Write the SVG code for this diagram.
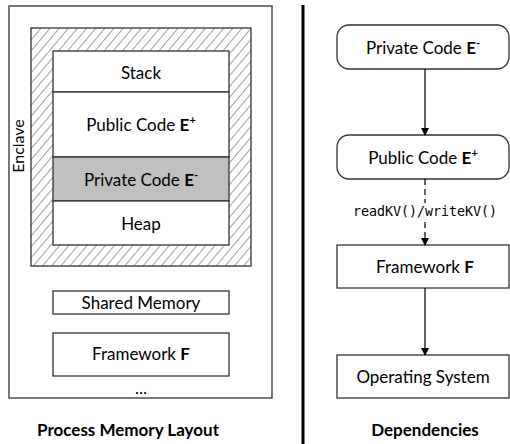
<svg xmlns="http://www.w3.org/2000/svg" width="510" height="444" viewBox="0 0 510 444">
<defs>
<pattern id="hatch" patternUnits="userSpaceOnUse" width="7" height="7" patternTransform="rotate(40)">
<line x1="0" y1="0" x2="0" y2="7" stroke="#444" stroke-width="1"/>
</pattern>
<marker id="arr" markerWidth="8" markerHeight="8" refX="7" refY="4" orient="auto" markerUnits="userSpaceOnUse">
<path d="M0,0 L8,4 L0,8 Z" fill="#000"/>
</marker>
</defs>
<style>
.box{fill:#fff;stroke:#333;stroke-width:1.3}
.t{font-family:Lato,"Open Sans",sans-serif;font-size:17px;fill:#000;text-anchor:middle}
.b{font-weight:bold}
.sup{font-size:11px;font-weight:bold}
.m{font-family:"DejaVu Sans Mono",monospace;font-size:13.3px;fill:#000;text-anchor:middle}
.ln{stroke:#000;stroke-width:1.2;fill:none}
</style>
<rect width="510" height="444" fill="#fff"/>
<g id="process">
<rect x="9" y="6" width="263" height="392" class="box"/>
</g>
<g id="enclave">
<rect x="31" y="28" width="220" height="238" fill="url(#hatch)" stroke="#333" stroke-width="1.3"/>
<text class="t" transform="translate(24,146) rotate(-90)" style="font-size:16px">Enclave</text>
</g>
<g id="stack">
<rect x="53" y="51" width="176" height="41" class="box"/>
<text class="t" x="141" y="79">Stack</text>
</g>
<g id="public-mem">
<rect x="53" y="92" width="176" height="65" class="box"/>
<text class="t" x="141" y="131">Public Code <tspan class="b">E</tspan><tspan class="sup" dy="-7">+</tspan></text>
</g>
<g id="private-mem">
<rect x="53" y="157" width="176" height="44" fill="#c0c0c0" stroke="#333" stroke-width="1.3"/>
<text class="t" x="141" y="186">Private Code <tspan class="b">E</tspan><tspan class="sup" dy="-7">-</tspan></text>
</g>
<g id="heap">
<rect x="53" y="201" width="176" height="44" class="box"/>
<text class="t" x="141" y="230">Heap</text>
</g>
<g id="shared">
<rect x="53" y="291" width="176" height="23" class="box"/>
<text class="t" x="141" y="309">Shared Memory</text>
</g>
<g id="framework-mem">
<rect x="53" y="333" width="176" height="43" class="box"/>
<text class="t" x="141" y="360">Framework <tspan class="b">F</tspan></text>
<text class="t" x="141" y="394">...</text>
</g>
<g id="title-left">
<text class="t b" x="128" y="436">Process Memory Layout</text>
</g>
<g id="divider">
<line x1="303" y1="5" x2="303" y2="444" stroke="#000" stroke-width="3"/>
</g>
<g id="dep-private">
<rect x="337" y="25" width="172" height="44" rx="12" class="box"/>
<text class="t" x="423" y="54">Private Code <tspan class="b">E</tspan><tspan class="sup" dy="-7">-</tspan></text>
</g>
<g id="dep-public">
<rect x="337" y="135" width="172" height="44" rx="12" class="box"/>
<text class="t" x="423" y="164">Public Code <tspan class="b">E</tspan><tspan class="sup" dy="-7">+</tspan></text>
</g>
<g id="dep-framework">
<rect x="337" y="245" width="172" height="43" class="box"/>
<text class="t" x="425" y="273">Framework <tspan class="b">F</tspan></text>
</g>
<g id="dep-os">
<rect x="337" y="355" width="172" height="43" class="box"/>
<text class="t" x="423" y="383">Operating System</text>
</g>
<g id="connectors">
<line x1="425" y1="69" x2="425" y2="135" class="ln" marker-end="url(#arr)"/>
<line x1="425" y1="179" x2="425" y2="203" class="ln" stroke-dasharray="6,4"/>
<line x1="425" y1="222" x2="425" y2="245" class="ln" stroke-dasharray="6,4" marker-end="url(#arr)"/>
<text class="m" x="425" y="216">readKV()/writeKV()</text>
<line x1="425" y1="288" x2="425" y2="355" class="ln" marker-end="url(#arr)"/>
</g>
<g id="title-right">
<text class="t b" x="425" y="436">Dependencies</text>
</g>
</svg>
